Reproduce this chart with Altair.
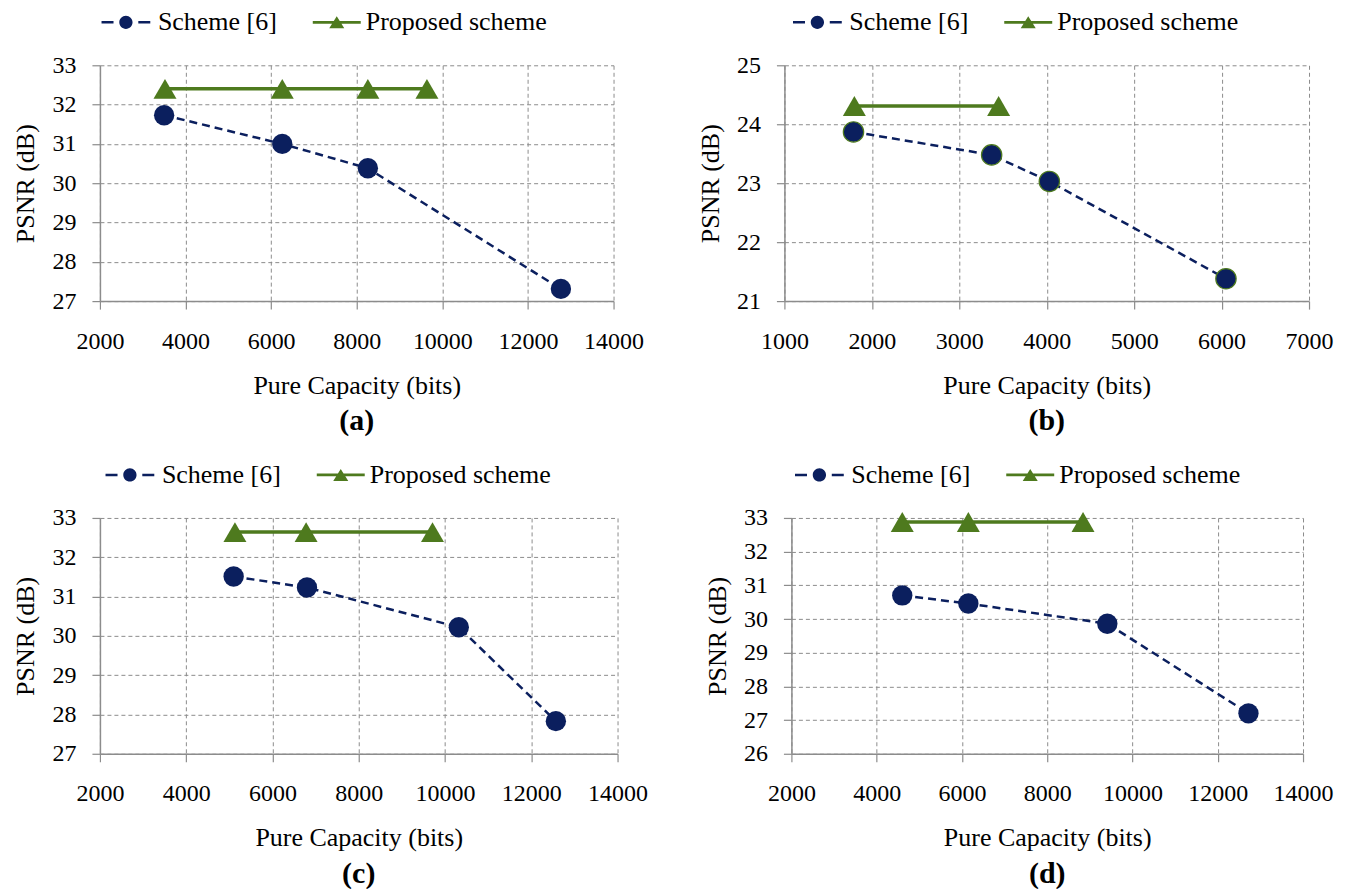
import altair as alt
import pandas as pd

SERIES = ["Scheme [6]", "Proposed scheme"]
NAVY = "#0B1F5E"
GREEN = "#4E7A1E"
FONT = "Liberation Serif"

# ---- data ----
A_S6_X = [3500, 6260, 8260, 12770]
A_S6_Y = [31.73, 31.00, 30.38, 27.31]
A_PR_X = [3520, 6260, 8260, 9640]
A_PR_Y = [32.40, 32.40, 32.40, 32.40]

B_S6_X = [1790, 3370, 4030, 6050]
B_S6_Y = [23.87, 23.48, 23.03, 21.38]
B_PR_X = [1800, 3450]
B_PR_Y = [24.31, 24.31]

C_S6_X = [5100, 6800, 10320, 12570]
C_S6_Y = [31.51, 31.23, 30.22, 27.83]
C_PR_X = [5130, 6780, 9710]
C_PR_Y = [32.64, 32.64, 32.64]

D_S6_X = [4600, 6150, 9410, 12720]
D_S6_Y = [30.70, 30.46, 29.86, 27.20]
D_PR_X = [4600, 6150, 8840]
D_PR_Y = [32.88, 32.88, 32.88]

X_TICKS_WIDE = [2000, 4000, 6000, 8000, 10000, 12000, 14000]
X_TICKS_B = [1000, 2000, 3000, 4000, 5000, 6000, 7000]
Y_TICKS_A = [27, 28, 29, 30, 31, 32, 33]
Y_TICKS_B = [21, 22, 23, 24, 25]
Y_TICKS_D = [26, 27, 28, 29, 30, 31, 32, 33]

# legend symbols (unit = half of nominal symbol size)
S6_PATH = ("M0.83,0 A0.83,0.83 0 1,1 -0.83,0 A0.83,0.83 0 1,1 0.83,0 Z "
           "M-3.05,-0.16 L-1.55,-0.16 L-1.55,0.16 L-3.05,0.16 Z "
           "M1.55,-0.16 L3.05,-0.16 L3.05,0.16 L1.55,0.16 Z")
PR_PATH = ("M-3,-0.17 L3,-0.17 L3,0.17 L-3,0.17 Z "
           "M-0.94,0.75 L0,-0.75 L0.94,0.75 Z")

AXIS_STYLE = dict(
    labelFont=FONT, titleFont=FONT, labelFontSize=24, titleFontSize=26,
    labelColor="black", titleColor="black", titleFontWeight="normal",
    gridColor="#8c8c8c", gridDash=[4, 3], gridWidth=1,
    domainColor="#8c8c8c", domainWidth=1.5, tickColor="#8c8c8c", tickSize=8, tickWidth=1.2,
    labelOverlap=False,
)


def panel(letter, s6x, s6y, prx, pry, xdom, ydom, xvals, yvals, w, h, lx, outline=False):
    rows = [{"series": SERIES[0], "x": a, "y": b} for a, b in zip(s6x, s6y)]
    rows += [{"series": SERIES[1], "x": a, "y": b} for a, b in zip(prx, pry)]
    df = pd.DataFrame(rows)

    xenc = alt.X("x:Q", scale=alt.Scale(domain=xdom, nice=False, zero=False),
                 axis=alt.Axis(values=xvals, format="d", title="Pure Capacity (bits)",
                               labelFlush=False, labelPadding=20, titlePadding=19,
                               **AXIS_STYLE))
    yenc = alt.Y("y:Q", scale=alt.Scale(domain=ydom, nice=False, zero=False),
                 axis=alt.Axis(values=yvals, format="d", title="PSNR (dB)",
                               labelPadding=16, titlePadding=13, **AXIS_STYLE))
    base = alt.Chart(df).encode(x=xenc, y=yenc)

    line_s6 = base.transform_filter(alt.datum.series == SERIES[0]).mark_line(
        color=NAVY, strokeWidth=2.5, strokeDash=[8, 5])
    line_pr = base.transform_filter(alt.datum.series == SERIES[1]).mark_line(
        color=GREEN, strokeWidth=3.5)

    common_leg = dict(orient="none", title=None, labelFont=FONT, labelFontSize=26,
                      labelColor="black", labelLimit=400, symbolSize=256,
                      symbolStrokeWidth=0, padding=0)
    leg_s6 = alt.Legend(symbolType=S6_PATH, labelOffset=19, legendX=lx, legendY=-56, **common_leg)
    leg_pr = alt.Legend(symbolType=PR_PATH, labelOffset=16, legendX=lx + 211, legendY=-56, **common_leg)

    pt_kw = dict(filled=True, opacity=1)
    if outline:
        pt_kw.update(stroke=GREEN, strokeWidth=1.2)
    pts_s6 = base.transform_filter(alt.datum.series == SERIES[0]).mark_point(
        shape="circle", size=415, **pt_kw).encode(
        color=alt.Color("series:N", scale=alt.Scale(domain=[SERIES[0]], range=[NAVY]), legend=leg_s6))
    pts_pr = base.transform_filter(alt.datum.series == SERIES[1]).mark_point(
        shape="triangle-up", size=529, filled=True, opacity=1).encode(
        color=alt.Color("series:N", scale=alt.Scale(domain=[SERIES[1]], range=[GREEN]), legend=leg_pr))

    return alt.layer(line_s6, line_pr, pts_s6, pts_pr).resolve_scale(
        color="independent").properties(
        width=w, height=h,
        title=alt.TitleParams(letter, orient="bottom", anchor="middle", frame="group",
                              font=FONT, fontSize=30, fontWeight="bold", color="black",
                              offset=8))


pa = panel("(a)", A_S6_X, A_S6_Y, A_PR_X, A_PR_Y, [2000, 14000], [27, 33],
           X_TICKS_WIDE, Y_TICKS_A, 514, 236, 13)
pb = panel("(b)", B_S6_X, B_S6_Y, B_PR_X, B_PR_Y, [1000, 7000], [21, 25],
           X_TICKS_B, Y_TICKS_B, 525, 236, 20, outline=True)
pc = panel("(c)", C_S6_X, C_S6_Y, C_PR_X, C_PR_Y, [2000, 14000], [27, 33],
           X_TICKS_WIDE, Y_TICKS_A, 518, 236, 17)
pd_ = panel("(d)", D_S6_X, D_S6_Y, D_PR_X, D_PR_Y, [2000, 14000], [26, 33],
            X_TICKS_WIDE, Y_TICKS_D, 512, 236, 15)

row1 = alt.hconcat(pa, pb, spacing=54)
row2 = alt.hconcat(pc, pd_, spacing=57)

chart = alt.vconcat(row1, row2, spacing=26).properties(
    padding={"left": 5, "top": 1, "right": 5, "bottom": 0}
).configure_view(strokeWidth=0).configure_axis(
    labelFont=FONT, titleFont=FONT
).configure_legend(labelFont=FONT)

chart.save("out.html", embed_options={"renderer": "svg", "actions": False})
